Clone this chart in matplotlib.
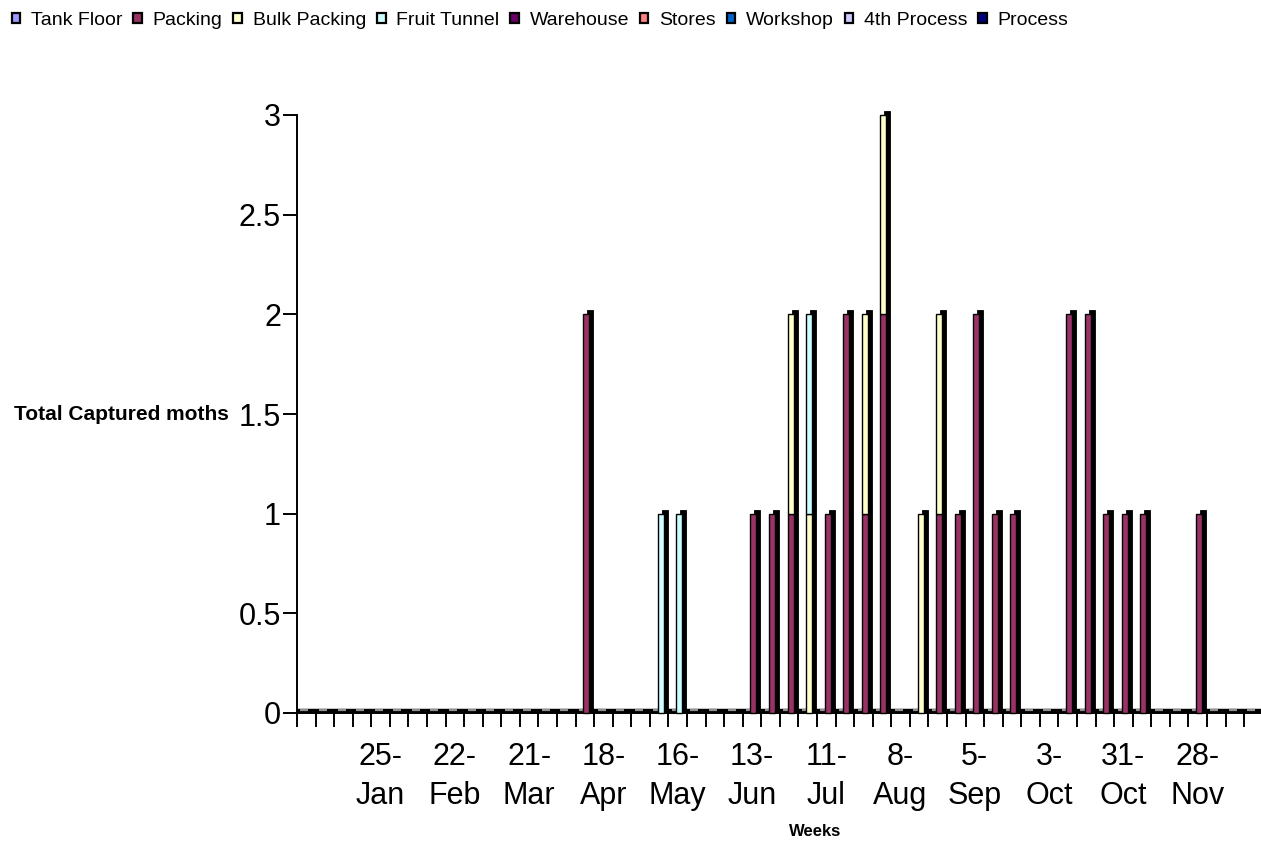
import matplotlib
matplotlib.use("Agg")
import matplotlib.pyplot as plt
from matplotlib.patches import Patch
from matplotlib.transforms import offset_copy
import numpy as np

plt.rcParams["font.family"] = ["Liberation Sans", "DejaVu Sans"]

# Week-commencing dates (52 weeks)
weeks = [
    "28-Dec", "4-Jan", "11-Jan", "18-Jan", "25-Jan", "1-Feb", "8-Feb", "15-Feb",
    "22-Feb", "29-Feb", "7-Mar", "14-Mar", "21-Mar", "28-Mar", "4-Apr", "11-Apr",
    "18-Apr", "25-Apr", "2-May", "9-May", "16-May", "23-May", "30-May", "6-Jun",
    "13-Jun", "20-Jun", "27-Jun", "4-Jul", "11-Jul", "18-Jul", "25-Jul", "1-Aug",
    "8-Aug", "15-Aug", "22-Aug", "29-Aug", "5-Sep", "12-Sep", "19-Sep", "26-Sep",
    "3-Oct", "10-Oct", "17-Oct", "24-Oct", "31-Oct", "7-Nov", "14-Nov", "21-Nov",
    "28-Nov", "5-Dec", "12-Dec", "19-Dec",
]

# Moths captured per week, by trap location
tank_floor = [0, 0, 0, 0, 0, 0, 0, 0, 0, 0, 0, 0, 0, 0, 0, 0, 0, 0, 0, 0, 0, 0, 0, 0, 0, 0,
              0, 0, 0, 0, 0, 0, 0, 0, 0, 0, 0, 0, 0, 0, 0, 0, 0, 0, 0, 0, 0, 0, 0, 0, 0, 0]
packing = [0, 0, 0, 0, 0, 0, 0, 0, 0, 0, 0, 0, 0, 0, 0, 2, 0, 0, 0, 0, 0, 0, 0, 0, 1, 1,
           1, 0, 1, 2, 1, 2, 0, 0, 1, 1, 2, 1, 1, 0, 0, 2, 2, 1, 1, 1, 0, 0, 1, 0, 0, 0]
bulk_packing = [0, 0, 0, 0, 0, 0, 0, 0, 0, 0, 0, 0, 0, 0, 0, 0, 0, 0, 0, 0, 0, 0, 0, 0, 0, 0,
                1, 1, 0, 0, 1, 1, 0, 1, 1, 0, 0, 0, 0, 0, 0, 0, 0, 0, 0, 0, 0, 0, 0, 0, 0, 0]
fruit_tunnel = [0, 0, 0, 0, 0, 0, 0, 0, 0, 0, 0, 0, 0, 0, 0, 0, 0, 0, 0, 1, 1, 0, 0, 0, 0, 0,
                0, 1, 0, 0, 0, 0, 0, 0, 0, 0, 0, 0, 0, 0, 0, 0, 0, 0, 0, 0, 0, 0, 0, 0, 0, 0]
warehouse = [0, 0, 0, 0, 0, 0, 0, 0, 0, 0, 0, 0, 0, 0, 0, 0, 0, 0, 0, 0, 0, 0, 0, 0, 0, 0,
             0, 0, 0, 0, 0, 0, 0, 0, 0, 0, 0, 0, 0, 0, 0, 0, 0, 0, 0, 0, 0, 0, 0, 0, 0, 0]
stores = [0, 0, 0, 0, 0, 0, 0, 0, 0, 0, 0, 0, 0, 0, 0, 0, 0, 0, 0, 0, 0, 0, 0, 0, 0, 0,
          0, 0, 0, 0, 0, 0, 0, 0, 0, 0, 0, 0, 0, 0, 0, 0, 0, 0, 0, 0, 0, 0, 0, 0, 0, 0]
workshop = [0, 0, 0, 0, 0, 0, 0, 0, 0, 0, 0, 0, 0, 0, 0, 0, 0, 0, 0, 0, 0, 0, 0, 0, 0, 0,
            0, 0, 0, 0, 0, 0, 0, 0, 0, 0, 0, 0, 0, 0, 0, 0, 0, 0, 0, 0, 0, 0, 0, 0, 0, 0]
fourth_process = [0, 0, 0, 0, 0, 0, 0, 0, 0, 0, 0, 0, 0, 0, 0, 0, 0, 0, 0, 0, 0, 0, 0, 0, 0, 0,
                  0, 0, 0, 0, 0, 0, 0, 0, 0, 0, 0, 0, 0, 0, 0, 0, 0, 0, 0, 0, 0, 0, 0, 0, 0, 0]
process = [0, 0, 0, 0, 0, 0, 0, 0, 0, 0, 0, 0, 0, 0, 0, 0, 0, 0, 0, 0, 0, 0, 0, 0, 0, 0,
           0, 0, 0, 0, 0, 0, 0, 0, 0, 0, 0, 0, 0, 0, 0, 0, 0, 0, 0, 0, 0, 0, 0, 0, 0, 0]

series_names = ["Tank Floor", "Packing", "Bulk Packing", "Fruit Tunnel", "Warehouse",
                "Stores", "Workshop", "4th Process", "Process"]
series_values = [tank_floor, packing, bulk_packing, fruit_tunnel, warehouse,
                 stores, workshop, fourth_process, process]
series_colors = ["#9999FF", "#993366", "#FFFFCC", "#CCFFFF", "#660066",
                 "#FF8080", "#0066CC", "#CCCCFF", "#000080"]

label_every = 4
label_start = 4

W, H, DPI = 1261, 841, 100
fig = plt.figure(figsize=(W / DPI, H / DPI), dpi=DPI)
fig.patch.set_facecolor("white")

n = len(weeks)
cat_px = 18.57
ax = fig.add_axes([297 / W, 1 - 713 / H, n * cat_px / W, (713 - 115) / H])
ax.set_xlim(-0.5, n - 0.5)
ax.set_ylim(0, 3)

x = np.arange(n)
bar_w = 6 / cat_px


def shifted(dx, dy):
    return offset_copy(ax.transData, fig=fig, x=dx, y=dy, units="dots")


# 3-D style floor along the category axis
ax.plot([-0.5, n - 0.5], [0, 0], color="black", lw=3.2, solid_capstyle="butt",
        transform=shifted(0, 2), zorder=2, clip_on=False)

# Zero-value markers for every week
ax.scatter(x - 0.1, np.zeros(n), marker="_", s=40, color="#909090", lw=1.6,
           transform=shifted(0, 3), zorder=3, clip_on=False)

# Stacked columns: black extruded depth behind a coloured front face
bottom = np.zeros(n)
for name, vals, col in zip(series_names, series_values, series_colors):
    vals = np.array(vals, dtype=float)
    mask = vals > 0
    if mask.any():
        ax.bar(x[mask], vals[mask], bottom=bottom[mask], width=bar_w, color="black",
               edgecolor="black", lw=0.6, transform=shifted(5.5, 4), zorder=4, clip_on=False)
        ax.bar(x[mask], vals[mask], bottom=bottom[mask], width=bar_w, color=col,
               edgecolor="black", lw=1.0, transform=shifted(1.5, 0), zorder=5, clip_on=False)
    bottom += vals

# Axes styling
for s in ["top", "right"]:
    ax.spines[s].set_visible(False)
ax.spines["left"].set_linewidth(1.4)
ax.spines["bottom"].set_linewidth(1.4)

ax.set_yticks([0, 0.5, 1, 1.5, 2, 2.5, 3])
ax.set_yticklabels(["0", "0.5", "1", "1.5", "2", "2.5", "3"])
ax.tick_params(axis="y", direction="out", length=10, width=1.4, labelsize=22, pad=1.5)

label_pos = list(range(label_start, n, label_every))
ax.set_xticks(label_pos)
ax.set_xticklabels([weeks[i].replace("-", "-\n") for i in label_pos], linespacing=1.4)
ax.set_xticks(np.arange(n + 1) - 0.5, minor=True)
ax.tick_params(axis="x", which="major", length=0, labelsize=22, pad=21)
ax.tick_params(axis="x", which="minor", direction="out", length=10, width=1.4)

fig.text(229 / W, 1 - 415 / H, "Total Captured moths", ha="right", va="center",
         fontsize=15, fontweight="bold")
fig.text(815 / W, 1 - 832 / H, "Weeks", ha="center", va="center",
         fontsize=12, fontweight="bold")

handles = [Patch(facecolor=c, edgecolor="black", lw=1.6) for c in series_colors]
fig.legend(handles, series_names, loc="upper left", bbox_to_anchor=(0.0, 1.0),
           ncol=len(series_names), frameon=False, fontsize=14,
           handlelength=0.45, handleheight=0.45, handletextpad=0.55,
           columnspacing=0.55, borderaxespad=0.3, borderpad=0.3)

fig.savefig("out.png", dpi=DPI, facecolor="white")
